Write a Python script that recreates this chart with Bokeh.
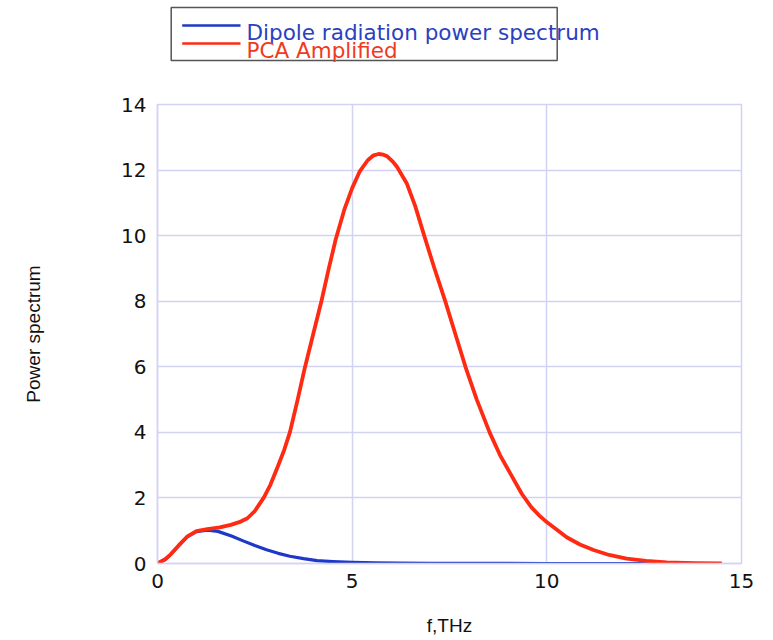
from bokeh.plotting import figure
from bokeh.layouts import column
from bokeh.models import Range1d, FixedTicker
from bokeh.core.properties import value
from bokeh.embed import file_html
from bokeh.resources import INLINE

# ---- data ----
freq_red = [0, 0.2, 0.34, 0.55, 0.77, 1.0, 1.28, 1.6, 1.88, 2.1, 2.31, 2.5, 2.73, 2.9, 3.08,
            3.25, 3.40, 3.6, 3.78, 4.0, 4.21, 4.4, 4.58, 4.8, 5.0, 5.19, 5.4, 5.55, 5.68, 5.8,
            5.9, 6.05, 6.15, 6.4, 6.62, 6.85, 7.1, 7.39, 7.65, 7.91, 8.2, 8.53, 8.8, 9.06,
            9.36, 9.6, 9.8, 9.97, 10.25, 10.51, 10.85, 11.2, 11.6, 12.05, 12.55, 13.08, 13.8,
            14.49]
power_red = [0, 0.13, 0.28, 0.56, 0.83, 0.99, 1.05, 1.1, 1.18, 1.26, 1.38, 1.6, 2.01, 2.4, 2.93,
             3.45, 4.0, 5.0, 5.95, 7.0, 8.0, 9.0, 9.9, 10.8, 11.45, 11.95, 12.3, 12.45, 12.49,
             12.47, 12.42, 12.25, 12.1, 11.6, 10.9, 10.0, 9.05, 8.0, 7.0, 6.0, 5.0, 4.0, 3.3, 2.75,
             2.12, 1.72, 1.47, 1.29, 1.04, 0.8, 0.58, 0.41, 0.26, 0.15, 0.08, 0.03, 0.01,
             0.0]

freq_blue = [0, 0.2, 0.34, 0.55, 0.77, 1.0, 1.28, 1.55, 1.9, 2.2, 2.5, 2.8, 3.1, 3.4, 3.75,
             4.1, 4.5, 5.0, 5.6, 6.2, 7.0, 8.0, 10.0, 12.0, 14.49]
power_blue = [0, 0.13, 0.28, 0.55, 0.82, 0.97, 1.02, 0.98, 0.84, 0.69, 0.55, 0.42, 0.31, 0.22, 0.15,
              0.09, 0.06, 0.035, 0.02, 0.01, 0.005, 0.002, 0.0, 0.0, 0.0]

x_ticks = [0, 5, 10, 15]
y_ticks = [0, 2, 4, 6, 8, 10, 12, 14]
series_names = ["Dipole radiation power spectrum", "PCA Amplified"]
series_colors = ["#1e38c8", "#ff2a12"]
text_colors = ["#2b3fc0", "#f03a20"]

W = 765
LEFT = 157
RIGHT = 24
FRAME_W = W - LEFT - RIGHT
LEG_H = 92
GRID = "#d2d2f2"
INK = "#111111"

# ---- legend strip (drawn above the plot, in canvas pixel coordinates) ----
leg = figure(x_range=Range1d(LEFT, LEFT + FRAME_W), y_range=Range1d(LEG_H, 0),
             output_backend="svg", toolbar_location=None, min_border=0,
             min_border_left=LEFT, min_border_right=RIGHT,
             x_axis_location=None, y_axis_location=None)
leg.frame_width = FRAME_W
leg.frame_height = LEG_H
leg.outline_line_color = None
leg.grid.visible = False
leg.quad(left=[170.7], right=[556.7], top=[7], bottom=[60], fill_color="white",
         line_color="#555555", line_width=1.5)
leg.segment(x0=[181.7, 181.7], x1=[240, 240], y0=[25, 43], y1=[25, 43],
            line_color=series_colors, line_width=2.5)
leg.text(x=[246, 246], y=[32, 50], text=series_names, text_color=text_colors,
         text_font=value("DejaVu Sans"), text_font_size="21.5px", text_baseline="alphabetic")

# ---- main plot ----
p = figure(x_range=Range1d(0, 15), y_range=Range1d(0, 14),
           output_backend="svg", toolbar_location=None,
           min_border_left=LEFT, min_border_right=RIGHT, min_border_top=12,
           min_border_bottom=75)
p.frame_width = FRAME_W
p.frame_height = 459
p.outline_line_color = GRID
p.outline_line_width = 1.5
p.background_fill_color = "white"

p.xaxis.ticker = FixedTicker(ticks=x_ticks)
p.yaxis.ticker = FixedTicker(ticks=y_ticks)
for ax in (p.xaxis, p.yaxis):
    ax.axis_line_color = GRID
    ax.axis_line_width = 1.5
    ax.major_tick_line_color = None
    ax.minor_tick_line_color = None
    ax.major_label_text_font = "DejaVu Sans"
    ax.major_label_text_font_size = "20px"
    ax.major_label_text_color = INK
    ax.axis_label_text_font = "Liberation Sans"
    ax.axis_label_text_font_size = "19px"
    ax.axis_label_text_font_style = "normal"
    ax.axis_label_text_color = INK

p.xaxis.major_label_standoff = 4
p.yaxis.major_label_standoff = 5
p.xaxis.axis_label = "f,THz"
p.yaxis.axis_label = "Power spectrum"
p.xaxis.axis_label_standoff = 24
p.yaxis.axis_label_standoff = 74

p.xgrid.grid_line_color = GRID
p.ygrid.grid_line_color = GRID
p.xgrid.grid_line_width = 1.5
p.ygrid.grid_line_width = 1.5

p.line(freq_blue, power_blue, line_color=series_colors[0], line_width=3.2, line_join="round")
p.line(freq_red, power_red, line_color=series_colors[1], line_width=3.8, line_join="round")

layout = column(leg, p, spacing=0)
open("out.html", "w").write(file_html(layout, INLINE))
